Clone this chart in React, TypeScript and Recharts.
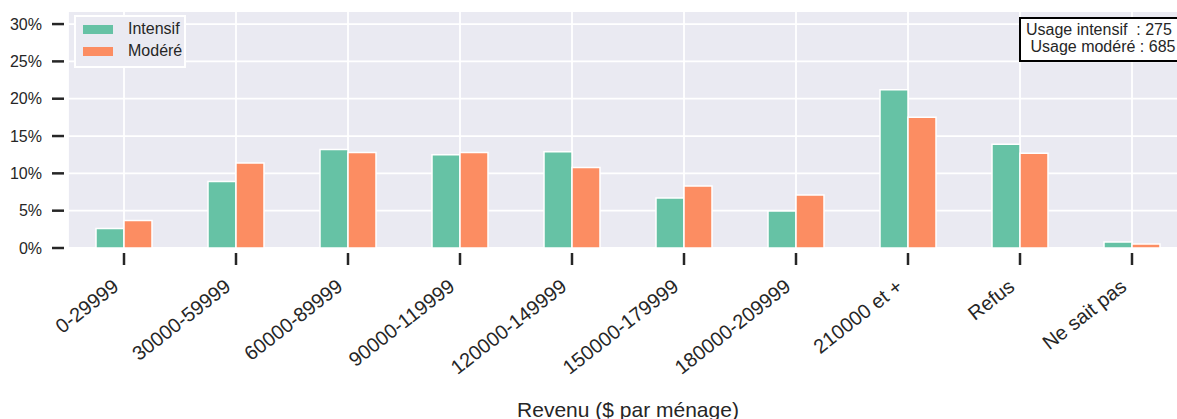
import React from "react";
import {
  Bar,
  BarChart,
  CartesianGrid,
  Legend,
  XAxis,
  YAxis,
} from "recharts";

const categories = [
  "0-29999",
  "30000-59999",
  "60000-89999",
  "90000-119999",
  "120000-149999",
  "150000-179999",
  "180000-209999",
  "210000 et +",
  "Refus",
  "Ne sait pas",
];
const intensif = [2.6, 8.9, 13.2, 12.5, 12.9, 6.7, 4.95, 21.2, 13.9, 0.8];
const modere = [3.7, 11.4, 12.8, 12.8, 10.8, 8.3, 7.1, 17.5, 12.7, 0.55];
const yTicks = [0, 5, 10, 15, 20, 25, 30];
const counts = { intensif: 275, modere: 685 };

const data = categories.map((c, i) => ({
  revenu: c,
  intensif: intensif[i],
  modere: modere[i],
}));

const FONT = '"Liberation Sans", Arial, sans-serif';
const INK = "#262626";

function YTick({ x, y, payload }: any) {
  return (
    <g>
      <line x1={x - 16} x2={x - 4} y1={y} y2={y} stroke={INK} strokeWidth={2.5} />
      <text
        x={x - 26}
        y={y}
        dy={5.5}
        textAnchor="end"
        fill={INK}
        fontSize={16}
        fontFamily={FONT}
      >
        {`${payload.value}%`}
      </text>
    </g>
  );
}

function XTick({ x, y, payload }: any) {
  const tx = x - 4;
  const ty = y + 41;
  return (
    <g>
      <line x1={x} x2={x} y1={y + 5} y2={y + 17} stroke={INK} strokeWidth={2.5} />
      <text
        x={tx}
        y={ty}
        textAnchor="end"
        fill={INK}
        fontSize={20}
        fontFamily={FONT}
        transform={`rotate(-38 ${tx} ${ty})`}
      >
        {payload.value}
      </text>
    </g>
  );
}

function LegendBox({ payload }: any) {
  return (
    <div
      style={{
        position: "relative",
        width: 108,
        height: 49,
        border: "2px solid #ffffff",
        background: "#eaeaf2",
        fontFamily: FONT,
        fontSize: 16,
        color: INK,
      }}
    >
      {(payload || []).map((p: any, i: number) => (
        <div
          key={p.value}
          style={{ position: "absolute", left: 0, top: 4 + i * 22, height: 16, width: 108 }}
        >
          <div
            style={{
              position: "absolute",
              left: 7,
              top: 4,
              width: 30,
              height: 9,
              background: p.color,
            }}
          />
          <div style={{ position: "absolute", left: 52, top: 0, lineHeight: "16px", whiteSpace: "nowrap" }}>
            {p.value}
          </div>
        </div>
      ))}
    </div>
  );
}

export default function App() {
  return (
    <div
      style={{
        position: "absolute",
        left: 0,
        top: 0,
        width: 1177,
        height: 419,
        overflow: "hidden",
        background: "#ffffff",
      }}
    >
      <BarChart
        width={1200}
        height={419}
        data={data}
        margin={{ top: 11, right: 12, bottom: 0, left: 0 }}
        barCategoryGap="25%"
        barGap={0}
      >
        <CartesianGrid fill="#eaeaf2" stroke="#ffffff" strokeWidth={1.8} />
        <XAxis
          dataKey="revenu"
          height={171}
          axisLine={false}
          tickLine={false}
          tickSize={0}
          tickMargin={0}
          interval={0}
          tick={<XTick />}
          label={{
            value: "Revenu ($ par ménage)",
            position: "insideBottom",
            offset: 2,
            fill: INK,
            fontSize: 21,
            fontFamily: FONT,
          }}
        />
        <YAxis
          width={68}
          domain={[0, 31.75]}
          ticks={yTicks}
          axisLine={false}
          tickLine={false}
          tickSize={0}
          tickMargin={0}
          tick={<YTick />}
        />
        <Legend
          layout="vertical"
          align="center"
          verticalAlign="middle"
          wrapperStyle={{ left: 74, top: 15, width: 112, height: 53 }}
          content={<LegendBox />}
        />
        <Bar
          dataKey="intensif"
          name="Intensif"
          fill="#66c2a5"
          stroke="#ffffff"
          strokeWidth={1.5}
          isAnimationActive={false}
        />
        <Bar
          dataKey="modere"
          name="Modéré"
          fill="#fc8d62"
          stroke="#ffffff"
          strokeWidth={1.5}
          isAnimationActive={false}
        />
      </BarChart>
      <div
        style={{
          position: "absolute",
          left: 1019,
          top: 17,
          width: 200,
          height: 34,
          padding: "2px 0 5px 5px",
          border: "2px solid #000000",
          background: "#ffffff",
          fontFamily: FONT,
          fontSize: 16,
          lineHeight: "17px",
          color: INK,
          whiteSpace: "pre",
          boxSizing: "content-box",
        }}
      >
        {`Usage intensif  : ${counts.intensif}\n Usage modéré : ${counts.modere}`}
      </div>
    </div>
  );
}
